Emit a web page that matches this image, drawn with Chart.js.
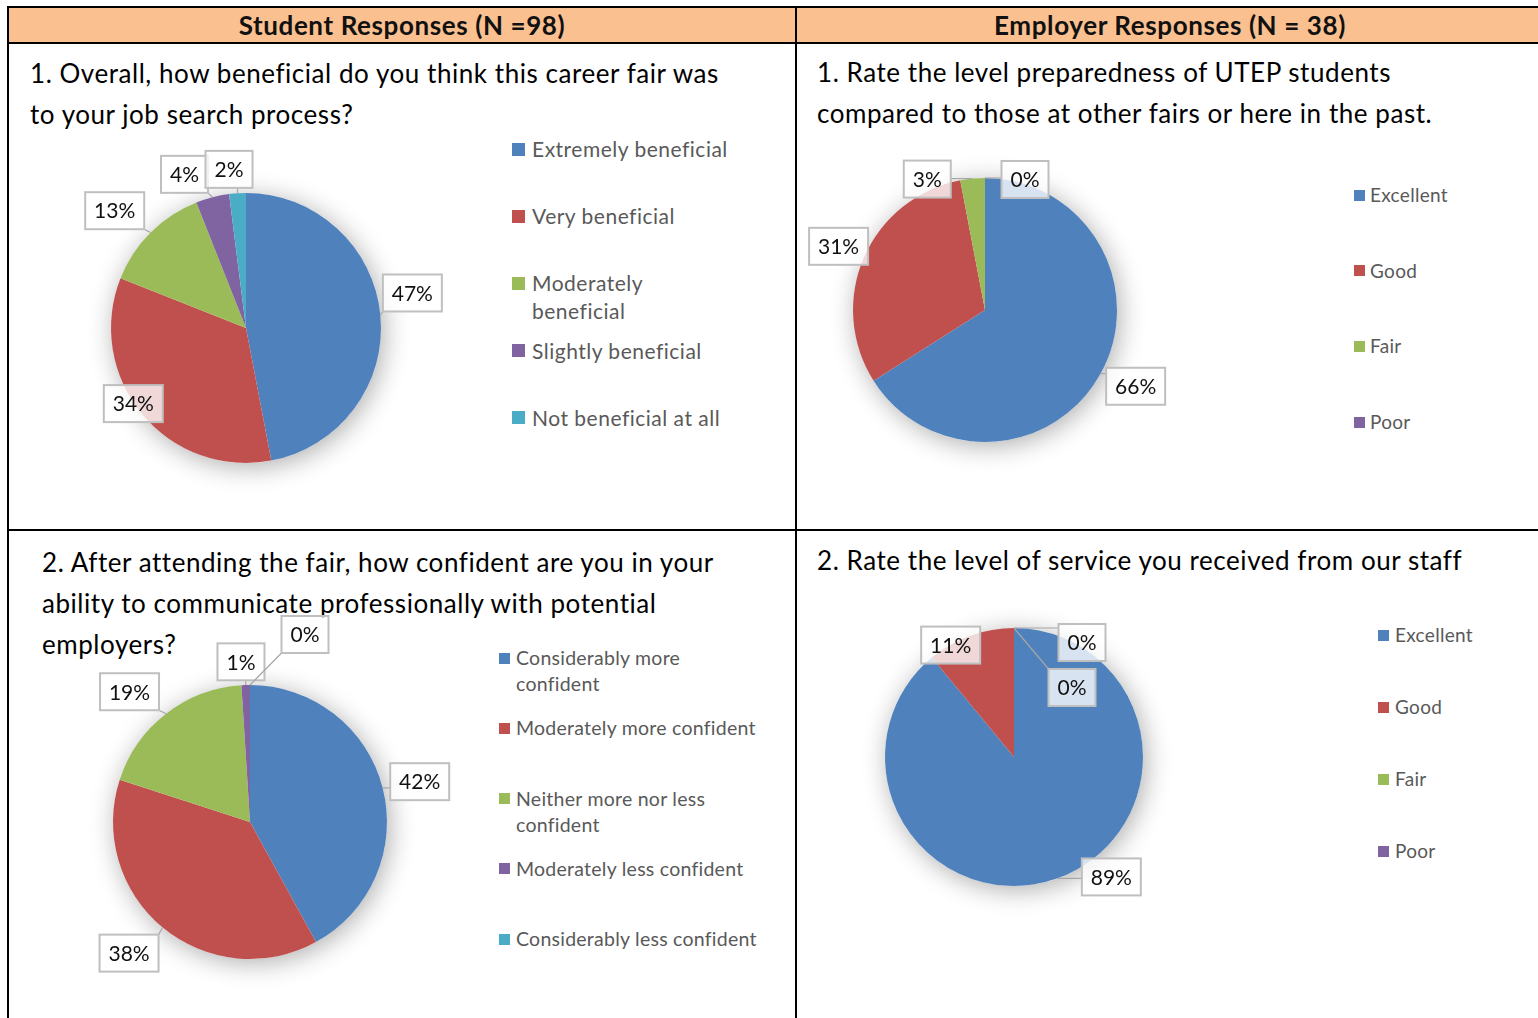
<!DOCTYPE html>
<html>
<head>
<meta charset="utf-8">
<script src="https://cdn.jsdelivr.net/npm/chart.js@4.4.0/dist/chart.umd.min.js"></script>
<style>
body{margin:0;width:1538px;height:1018px;overflow:hidden;background:#fff;font-family:Lato,"Open Sans",sans-serif;position:relative}
.hline{position:absolute;background:#000;height:2px}
.vline{position:absolute;background:#000;width:2px}
.q{position:absolute;font-size:26px;letter-spacing:0.55px;line-height:41px;color:#000;white-space:nowrap}
.head{position:absolute;top:8px;height:35px;line-height:35px;text-align:center;font-weight:bold;font-size:26px;letter-spacing:0.6px;color:#111}
.legend{position:absolute;color:#595959}
.legend .item{position:relative}
.legend .sq{position:absolute;left:0}
canvas{position:absolute}
</style>
</head>
<body>

<div style="position:absolute;left:8px;top:8px;width:1540px;height:35px;background:#FAC090"></div>
<div class="head" style="left:8px;width:788px">Student Responses (N =98)</div>
<div class="head" style="left:796px;width:748px">Employer Responses (N = 38)</div>

<div class="hline" style="left:8px;top:6px;width:1540px"></div>
<div class="hline" style="left:8px;top:42px;width:1540px"></div>
<div class="hline" style="left:8px;top:529px;width:1540px"></div>
<div class="vline" style="left:7px;top:6px;height:1020px"></div>
<div class="vline" style="left:795px;top:6px;height:1020px"></div>

<div class="q" style="left:30px;top:53px">1. Overall, how beneficial do you think this career fair was<br>to your job search process?</div>
<div class="q" style="left:817px;top:52px">1. Rate the level preparedness of UTEP students<br>compared to those at other fairs or here in the past.</div>
<div class="q" style="left:42px;top:542px">2. After attending the fair, how confident are you in your<br>ability to communicate professionally with potential<br>employers?</div>
<div class="q" style="left:817px;top:540px">2. Rate the level of service you received from our staff</div>

<div class="legend" id="leg1"></div>
<div class="legend" id="leg2"></div>
<div class="legend" id="leg3"></div>
<div class="legend" id="leg4"></div>

<canvas id="pie1"></canvas>
<canvas id="pie2"></canvas>
<canvas id="pie3"></canvas>
<canvas id="pie4"></canvas>

<script>
// Data

var q1Labels = ["Extremely beneficial", "Very beneficial", "Moderately beneficial", "Slightly beneficial", "Not beneficial at all"];
var q1Values = [47, 34, 13, 4, 2];

var q2Labels = ["Considerably more confident", "Moderately more confident", "Neither more nor less confident", "Moderately less confident", "Considerably less confident"];
var q2Values = [42, 38, 19, 1, 0];

var rateLabels = ["Excellent", "Good", "Fair", "Poor"];
var e1Values = [66, 31, 3, 0];
var e2Values = [89, 11, 0, 0];

var officeColors = ["#4F81BD", "#C0504D", "#9BBB59", "#8064A2", "#4BACC6"];

// soft shadow under the pie

var shadowPlugin = {
  id: 'pieShadow',
  beforeDatasetsDraw: function (chart) {
    var arc = chart.getDatasetMeta(0).data[0];
    var ctx = chart.ctx;
    ctx.save();
    ctx.shadowColor = 'rgba(0,0,0,0.32)';
    ctx.shadowBlur = 26;
    ctx.shadowOffsetX = 3;
    ctx.shadowOffsetY = 4;
    ctx.fillStyle = '#fff';
    ctx.beginPath();
    ctx.arc(arc.x, arc.y, arc.outerRadius, 0, Math.PI * 2);
    ctx.fill();
    ctx.restore();
  }
};

// percent callouts (excel style boxes)

var calloutPlugin = {
  id: 'callouts',
  afterDatasetsDraw: function (chart, args, opts) {
    var ctx = chart.ctx;
    var meta = chart.getDatasetMeta(0);
    var data = chart.data.datasets[0].data;
    var h = 37, padX = 9;
    ctx.save();
    ctx.font = '21px Lato';
    ctx.textAlign = 'center';
    ctx.textBaseline = 'middle';
    meta.data.forEach(function (arc, i) {
      var p = arc.getProps(['x', 'y', 'startAngle', 'endAngle', 'outerRadius'], true);
      var mid = (p.startAngle + p.endAngle) / 2;
      var c = Math.cos(mid), s = Math.sin(mid);
      var text = data[i] + '%';
      var w = Math.round(ctx.measureText(text).width + 2 * padX);
      var support = Math.abs(c) * w / 2 + Math.abs(s) * h / 2;
      var d = p.outerRadius + opts.gap + support;
      var n = (opts.nudge && opts.nudge[i]) || [0, 0];
      var bx = p.x + c * d + n[0], by = p.y + s * d + n[1];
      var ex = p.x + c * p.outerRadius, ey = p.y + s * p.outerRadius;
      var nx = Math.min(Math.max(ex, bx - w / 2), bx + w / 2);
      var ny = Math.min(Math.max(ey, by - h / 2), by + h / 2);
      if (Math.hypot(nx - ex, ny - ey) > 3) {
        ctx.strokeStyle = '#A6A6A6';
        ctx.lineWidth = 1.2;
        ctx.beginPath();
        ctx.moveTo(ex, ey);
        ctx.lineTo(nx, ny);
        ctx.stroke();
      }
      ctx.fillStyle = 'rgba(255,255,255,0.78)';
      ctx.fillRect(bx - w / 2, by - h / 2, w, h);
      ctx.strokeStyle = '#BFBFBF';
      ctx.lineWidth = 2;
      ctx.strokeRect(bx - w / 2, by - h / 2, w, h);
      ctx.fillStyle = '#111';
      ctx.fillText(text, bx, by + 1);
    });
    ctx.restore();
  }
};

function makePie(id, cx, cy, r, labels, values, nudge) {
  var size = 2 * (r + 92);
  var cv = document.getElementById(id);
  cv.width = size;
  cv.height = size;
  cv.style.left = (cx - size / 2) + 'px';
  cv.style.top = (cy - size / 2) + 'px';
  new Chart(cv, {
    type: 'pie',
    data: {
      labels: labels,
      datasets: [{
        data: values,
        backgroundColor: officeColors.slice(0, values.length),
        borderWidth: 0,
        radius: r
      }]
    },
    options: {
      responsive: false,
      animation: false,
      layout: { padding: 0 },
      plugins: {
        legend: { display: false },
        tooltip: { enabled: false },
        callouts: { gap: 4, nudge: nudge }
      }
    },
    plugins: [shadowPlugin, calloutPlugin]
  });
}

function makeLegend(id, labels, cfg) {
  var el = document.getElementById(id);
  el.style.left = cfg.left + 'px';
  el.style.top = cfg.top + 'px';
  el.style.fontSize = cfg.font + 'px';
  el.style.letterSpacing = cfg.ls + 'px';
  el.style.lineHeight = cfg.lh + 'px';
  labels.forEach(function (lab, i) {
    var it = document.createElement('div');
    it.className = 'item';
    it.style.height = cfg.slot + 'px';
    var sq = document.createElement('div');
    sq.className = 'sq';
    sq.style.width = cfg.sq + 'px';
    sq.style.height = cfg.sq + 'px';
    sq.style.top = ((cfg.lh - cfg.sq) / 2) + 'px';
    sq.style.background = officeColors[i];
    var tx = document.createElement('div');
    tx.style.position = 'absolute';
    tx.style.left = cfg.indent + 'px';
    tx.style.width = cfg.wrap + 'px';
    tx.textContent = lab;
    it.appendChild(sq);
    it.appendChild(tx);
    el.appendChild(it);
  });
}

makePie('pie1', 246, 328, 135, q1Labels, q1Values, [[-3, -19], [21, -35], [-9, 5], [-21, 4], [-7, 0]]);
makePie('pie2', 985, 309.5, 132, rateLabels, e1Values, [[1, -6], [10, 4], [-43, 25], [40, 24]]);
makePie('pie3', 250, 822, 137, q2Labels, q2Values, [[1, 3], [-10, -3], [-14, 7], [-4, 0], [55, -28]]);
makePie('pie4', 1014, 756.5, 129, rateLabels, e2Values, [[43, -31], [-9, 39], [68, 37], [58, 82]]);

makeLegend('leg1', q1Labels, { left: 512, top: 135, font: 21, ls: 0.5, lh: 28, slot: 67.2, sq: 13, indent: 20, wrap: 201 });
makeLegend('leg2', rateLabels, { left: 1354, top: 182, font: 19, ls: 0.3, lh: 26, slot: 75.7, sq: 11, indent: 16, wrap: 170 });
makeLegend('leg3', q2Labels, { left: 499, top: 645, font: 19.5, ls: 0.25, lh: 26, slot: 70.3, sq: 11, indent: 17, wrap: 250 });
makeLegend('leg4', rateLabels, { left: 1378, top: 622, font: 19, ls: 0.3, lh: 26, slot: 72, sq: 11, indent: 17, wrap: 150 });
</script>
</body>
</html>
